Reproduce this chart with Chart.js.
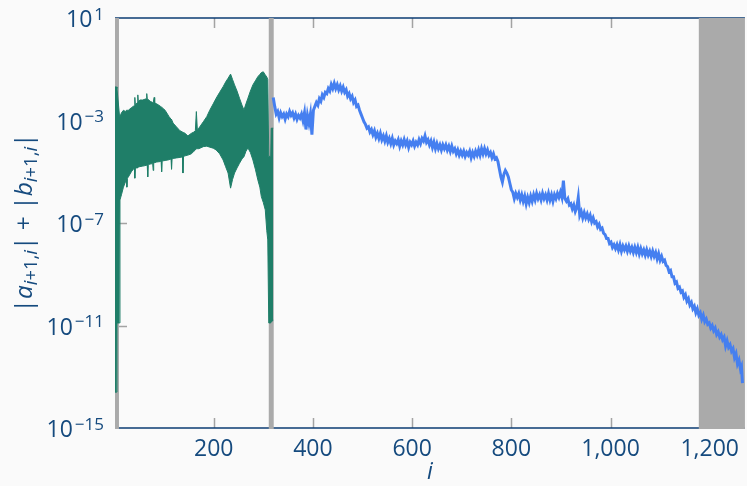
<!DOCTYPE html>
<html>
<head>
<meta charset="utf-8">
<script src="https://cdn.jsdelivr.net/npm/chart.js@4.4.1/dist/chart.umd.min.js"></script>
<style>
  html, body { margin: 0; padding: 0; background: #fafafa; }
  canvas { display: block; }
</style>
</head>
<body>
<canvas id="conv" width="747" height="486"></canvas>
<script>
// green part (i = 1..320): upper and lower envelope of the oscillation, log10 values
const greenIdx   = [1, 4, 5, 10, 11, 14, 18, 22, 24, 25, 26, 28, 34, 40, 41, 42, 46, 47, 48, 51, 57, 64, 65, 66, 67, 68, 72, 77, 78, 79, 80, 81, 85, 93, 94, 95, 96, 102, 110, 114, 115, 116, 118, 125, 132, 137, 138, 139, 140, 142, 148, 155, 160, 163, 165, 167, 170, 179, 186, 192, 199, 205, 212, 219, 224, 229, 234, 238, 242, 247, 252, 257, 261, 265, 269, 274, 279, 284, 289, 293, 296, 300, 304, 307, 309, 311, 315, 316, 320];
const greenUpper = [-1.69, -1.69, -1.75, -2.8, -2.85, -2.7, -2.6, -2.65, -2.6, -2.6, -2.6, -2.6, -2.5, -2.42, -2.1, -2.4, -2.3, -2.0, -2.28, -2.2, -2.2, -2.15, -1.95, -2.15, -2.15, -2.18, -2.25, -2.3, -2.3, -2.3, -2.1, -2.32, -2.35, -2.45, -2.47, -2.48, -2.5, -2.6, -2.85, -2.95, -2.98, -3.0, -3.1, -3.25, -3.4, -3.45, -3.45, -3.47, -3.5, -3.5, -3.6, -3.5, -3.45, -3.4, -2.65, -3.35, -3.3, -3.05, -2.85, -2.6, -2.35, -2.13, -1.9, -1.68, -1.5, -1.35, -1.19, -1.4, -1.61, -1.85, -2.13, -2.4, -2.59, -2.35, -2.13, -1.85, -1.61, -1.45, -1.29, -1.2, -1.13, -1.1, -1.22, -1.3, -1.4, -4.4, -4.4, -3.3, -3.3];
const greenLower = [-13.6, -13.6, -10.9, -10.9, -6.1, -5.9, -5.6, -5.4, -5.3, -5.6, -5.25, -5.2, -5.0, -4.85, -5.25, -4.85, -4.85, -4.85, -4.82, -4.8, -4.78, -4.75, -4.75, -4.75, -5.2, -4.72, -4.7, -4.68, -4.95, -4.66, -4.65, -4.65, -4.62, -4.6, -4.6, -5.0, -4.58, -4.56, -4.53, -4.5, -4.9, -4.5, -4.48, -4.46, -4.44, -4.42, -5.05, -4.4, -4.4, -4.38, -4.35, -4.3, -4.2, -4.15, -4.1, -4.1, -4.1, -4.02, -4.0, -4.04, -4.08, -4.15, -4.3, -4.54, -4.8, -5.05, -5.64, -5.3, -5.05, -4.85, -4.67, -4.5, -4.41, -4.2, -4.07, -4.25, -4.54, -4.9, -5.32, -5.6, -5.97, -6.2, -6.49, -7.3, -7.66, -10.9, -10.9, -10.85, -10.8];

// blue part (i = 320..1266), log10 values
const blueIdx = [320, 323, 326, 329, 332, 335, 338, 341, 344, 347, 350, 353, 356, 359, 362, 365, 368, 371, 374, 377, 380, 383, 386, 389, 392, 395, 398, 401, 404, 407, 410, 413, 416, 419, 422, 425, 428, 431, 434, 437, 440, 443, 446, 449, 452, 455, 458, 461, 464, 467, 470, 473, 476, 479, 482, 485, 488, 491, 494, 497, 500, 503, 506, 509, 512, 515, 518, 521, 524, 527, 530, 533, 536, 539, 542, 545, 548, 551, 554, 557, 560, 563, 566, 569, 572, 575, 578, 581, 584, 587, 590, 593, 596, 599, 602, 605, 608, 611, 614, 617, 620, 623, 626, 629, 632, 635, 638, 641, 644, 647, 650, 653, 656, 659, 662, 665, 668, 671, 674, 677, 680, 683, 686, 689, 692, 695, 698, 701, 704, 707, 710, 713, 716, 719, 722, 725, 728, 731, 734, 737, 740, 743, 746, 749, 752, 755, 758, 761, 764, 767, 770, 773, 776, 779, 782, 785, 788, 791, 794, 797, 800, 803, 806, 809, 812, 815, 818, 821, 824, 827, 830, 833, 836, 839, 842, 845, 848, 851, 854, 857, 860, 863, 866, 869, 872, 875, 878, 881, 884, 887, 890, 893, 896, 899, 902, 905, 908, 911, 914, 917, 920, 923, 926, 929, 932, 935, 938, 941, 944, 947, 950, 953, 956, 959, 962, 965, 968, 971, 974, 977, 980, 983, 986, 989, 992, 995, 998, 1001, 1004, 1007, 1010, 1013, 1016, 1019, 1022, 1025, 1028, 1031, 1034, 1037, 1040, 1043, 1046, 1049, 1052, 1055, 1058, 1061, 1064, 1067, 1070, 1073, 1076, 1079, 1082, 1085, 1088, 1091, 1094, 1097, 1100, 1103, 1106, 1109, 1112, 1115, 1118, 1121, 1124, 1127, 1130, 1133, 1136, 1139, 1142, 1145, 1148, 1151, 1154, 1157, 1160, 1163, 1166, 1169, 1172, 1175, 1178, 1181, 1184, 1187, 1190, 1193, 1196, 1199, 1202, 1205, 1208, 1211, 1214, 1217, 1220, 1223, 1226, 1229, 1232, 1235, 1238, 1241, 1244, 1247, 1250, 1253, 1256, 1259, 1262, 1264, 1266];
const blueExp = [-2.1, -2.45, -2.75, -2.65, -2.9, -2.7, -2.85, -2.75, -2.95, -2.75, -2.85, -2.65, -2.8, -2.7, -2.9, -2.75, -2.95, -2.8, -2.9, -2.75, -3.0, -2.7, -3.35, -2.8, -3.1, -2.75, -3.55, -2.6, -2.45, -2.3, -2.4, -2.15, -2.25, -2.0, -2.1, -1.9, -1.95, -1.75, -1.85, -1.6, -1.75, -1.55, -1.75, -1.6, -1.8, -1.65, -1.85, -1.7, -1.9, -1.8, -2.05, -1.95, -2.15, -2.05, -2.3, -2.2, -2.45, -2.4, -2.6, -2.75, -2.9, -3.05, -3.15, -3.3, -3.25, -3.45, -3.35, -3.55, -3.4, -3.65, -3.5, -3.7, -3.5, -3.75, -3.6, -3.8, -3.6, -3.85, -3.7, -3.9, -3.7, -3.95, -3.8, -3.9, -3.75, -4.0, -3.8, -3.95, -3.75, -3.95, -3.8, -4.05, -3.85, -3.95, -3.8, -4.0, -3.85, -3.95, -3.75, -3.9, -3.7, -3.8, -3.6, -3.85, -3.75, -3.95, -3.8, -4.05, -3.85, -4.1, -3.9, -4.1, -3.95, -4.15, -3.95, -4.1, -3.95, -4.15, -4.0, -4.2, -4.0, -4.2, -4.1, -4.3, -4.15, -4.35, -4.2, -4.35, -4.2, -4.4, -4.25, -4.35, -4.2, -4.45, -4.25, -4.4, -4.2, -4.35, -4.15, -4.35, -4.1, -4.3, -4.1, -4.3, -4.15, -4.35, -4.25, -4.45, -4.3, -4.5, -4.45, -4.6, -4.9, -5.2, -5.4, -5.1, -4.95, -5.05, -5.2, -5.45, -5.7, -5.8, -6.05, -5.85, -6.0, -5.85, -6.1, -5.9, -6.15, -5.95, -6.25, -6.0, -6.2, -5.95, -6.15, -5.9, -6.1, -5.85, -6.05, -5.9, -6.1, -5.85, -6.05, -5.9, -6.1, -5.85, -6.1, -5.9, -6.15, -5.9, -6.05, -5.85, -6.0, -5.8, -6.0, -5.35, -6.05, -6.15, -6.05, -6.3, -6.25, -6.45, -6.3, -6.55, -6.4, -6.0, -6.7, -6.55, -6.8, -6.6, -6.8, -6.65, -6.85, -6.7, -6.95, -6.8, -7.0, -6.95, -7.15, -7.05, -7.25, -7.2, -7.4, -7.45, -7.6, -7.6, -7.8, -7.75, -7.95, -7.85, -8.0, -7.85, -8.05, -7.85, -8.1, -7.9, -8.05, -7.9, -8.1, -7.9, -8.1, -7.95, -8.15, -7.95, -8.15, -7.95, -8.2, -8.0, -8.2, -8.05, -8.25, -8.05, -8.25, -8.1, -8.3, -8.1, -8.3, -8.15, -8.4, -8.2, -8.45, -8.3, -8.5, -8.45, -8.65, -8.7, -8.9, -8.85, -9.1, -9.1, -9.35, -9.3, -9.55, -9.5, -9.7, -9.65, -9.9, -9.8, -10.05, -9.95, -10.2, -10.1, -10.35, -10.25, -10.5, -10.35, -10.6, -10.5, -10.75, -10.6, -10.85, -10.75, -10.95, -10.9, -11.1, -11.0, -11.2, -11.1, -11.35, -11.25, -11.45, -11.35, -11.55, -11.45, -11.8, -11.6, -11.85, -11.75, -12.0, -11.9, -12.25, -12.1, -12.5, -12.35, -12.7, -12.6, -13.25];

// shaded index ranges
const bandStart = [1, 311, 1178];
const bandEnd   = [9, 321, 1300];

const xTicks = [200, 400, 600, 800, 1000, 1200];
const yTicks = [1e-15, 1e-11, 1e-7, 1e-3, 1e1];
const yTickExp = ['\u221215', '\u221211', '\u22127', '\u22123', '1'];

const textColor = '#154a7e';
const axisColor = '#0c3d73';
const fontFam = '"Open Sans", "DejaVu Sans", sans-serif';

const pts = (xs, es) => xs.map((x, k) => ({ x: x, y: Math.pow(10, es[k]) }));

const decor = {
    id: 'decor',
    beforeDatasetsDraw(chart) {
        const { ctx, chartArea: a, scales: { x, y } } = chart;
        ctx.save();
        // inward tick marks
        ctx.strokeStyle = '#a3a3a3';
        ctx.lineWidth = 1.5;
        ctx.beginPath();
        xTicks.forEach(v => {
            const px = Math.round(x.getPixelForValue(v)) + 0.5;
            ctx.moveTo(px, a.bottom); ctx.lineTo(px, a.bottom - 10);
            ctx.moveTo(px, a.top); ctx.lineTo(px, a.top + 10);
        });
        yTicks.slice(1, -1).forEach(v => {
            const py = Math.round(y.getPixelForValue(v)) + 0.5;
            ctx.moveTo(a.left, py); ctx.lineTo(a.left + 12, py);
        });
        ctx.stroke();
        // top / bottom axis lines
        ctx.strokeStyle = axisColor;
        ctx.lineWidth = 1.5;
        ctx.beginPath();
        ctx.moveTo(a.left, a.top); ctx.lineTo(a.right, a.top);
        ctx.moveTo(a.left, a.bottom); ctx.lineTo(a.right, a.bottom);
        ctx.stroke();
        // grey bands
        ctx.fillStyle = '#aaaaaa';
        bandStart.forEach((s, k) => {
            const x0 = Math.max(a.left, x.getPixelForValue(s));
            const x1 = Math.min(a.right, x.getPixelForValue(bandEnd[k]));
            ctx.fillRect(x0, a.top, x1 - x0, a.bottom - a.top + 1);
        });
        ctx.restore();
    },
    afterDraw(chart) {
        const { ctx, chartArea: a, scales: { y } } = chart;
        ctx.save();
        ctx.fillStyle = textColor;
        // y tick labels 10^k
        yTicks.forEach((v, k) => {
            const py = y.getPixelForValue(v);
            ctx.textAlign = 'right';
            ctx.textBaseline = 'middle';
            ctx.font = '17px ' + fontFam;
            const ex = yTickExp[k];
            ctx.fillText(ex, 104, py - 3);
            const w = ctx.measureText(ex).width;
            ctx.font = '23px ' + fontFam;
            ctx.fillText('10', 104 - w - 2, py + 2.5);
        });
        // y axis title |a_{i+1,i}| + |b_{i+1,i}|
        const segs = [
            { t: '|' }, { t: 'a', it: 1 }, { t: 'i', it: 1, sub: 1 }, { t: '+1,', sub: 1 }, { t: 'i', it: 1, sub: 1 },
            { t: '|' }, { t: ' + ' },
            { t: '|' }, { t: 'b', it: 1 }, { t: 'i', it: 1, sub: 1 }, { t: '+1,', sub: 1 }, { t: 'i', it: 1, sub: 1 },
            { t: '|' }
        ];
        const fontOf = s => (s.it ? 'italic ' : '') + (s.sub ? '18.5px ' : '24.5px ') + fontFam;
        let total = 0;
        segs.forEach(s => { ctx.font = fontOf(s); s.w = ctx.measureText(s.t).width; total += s.w; });
        ctx.translate(25, 223);
        ctx.rotate(-Math.PI / 2);
        ctx.textAlign = 'left';
        ctx.textBaseline = 'alphabetic';
        let cx = -total / 2;
        segs.forEach(s => {
            ctx.font = fontOf(s);
            ctx.fillText(s.t, cx, s.sub ? 12 : 7);
            cx += s.w;
        });
        ctx.restore();
    }
};

new Chart(document.getElementById('conv'), {
    type: 'line',
    data: {
        datasets: [
            {
                label: 'lower',
                data: pts(greenIdx, greenLower),
                borderColor: '#1f7e68',
                borderWidth: 1,
                fill: false
            },
            {
                label: 'upper',
                data: pts(greenIdx, greenUpper),
                borderColor: '#1f7e68',
                backgroundColor: '#1f7e68',
                borderWidth: 1,
                fill: '-1'
            },
            {
                label: 'blue',
                data: pts(blueIdx, blueExp),
                borderColor: '#457ff0',
                borderWidth: 3,
                fill: false
            }
        ]
    },
    options: {
        responsive: false,
        animation: false,
        devicePixelRatio: 1,
        layout: { padding: { top: 18, right: 0, left: 0, bottom: 0 } },
        elements: { point: { radius: 0 }, line: { tension: 0 } },
        plugins: { legend: { display: false }, tooltip: { enabled: false } },
        scales: {
            x: {
                type: 'linear',
                min: 1,
                max: 1271,
                grid: { display: false, drawTicks: false },
                border: { display: false },
                afterBuildTicks: s => { s.ticks = xTicks.map(v => ({ value: v })); },
                afterFit: s => { s.height = 58; },
                ticks: {
                    color: textColor,
                    font: { family: fontFam, size: 23 },
                    padding: 8,
                    maxRotation: 0,
                    callback: v => v.toLocaleString('en-US')
                },
                title: {
                    display: true,
                    text: 'i',
                    color: textColor,
                    font: { family: fontFam, size: 23, style: 'italic' },
                    padding: 0
                }
            },
            y: {
                type: 'logarithmic',
                min: 1e-15,
                max: 1e1,
                grid: { display: false, drawTicks: false },
                border: { display: false },
                afterBuildTicks: s => { s.ticks = yTicks.map(v => ({ value: v })); },
                afterFit: s => { s.width = 115; },
                ticks: { display: false }
            }
        }
    },
    plugins: [decor]
});
</script>
</body>
</html>
